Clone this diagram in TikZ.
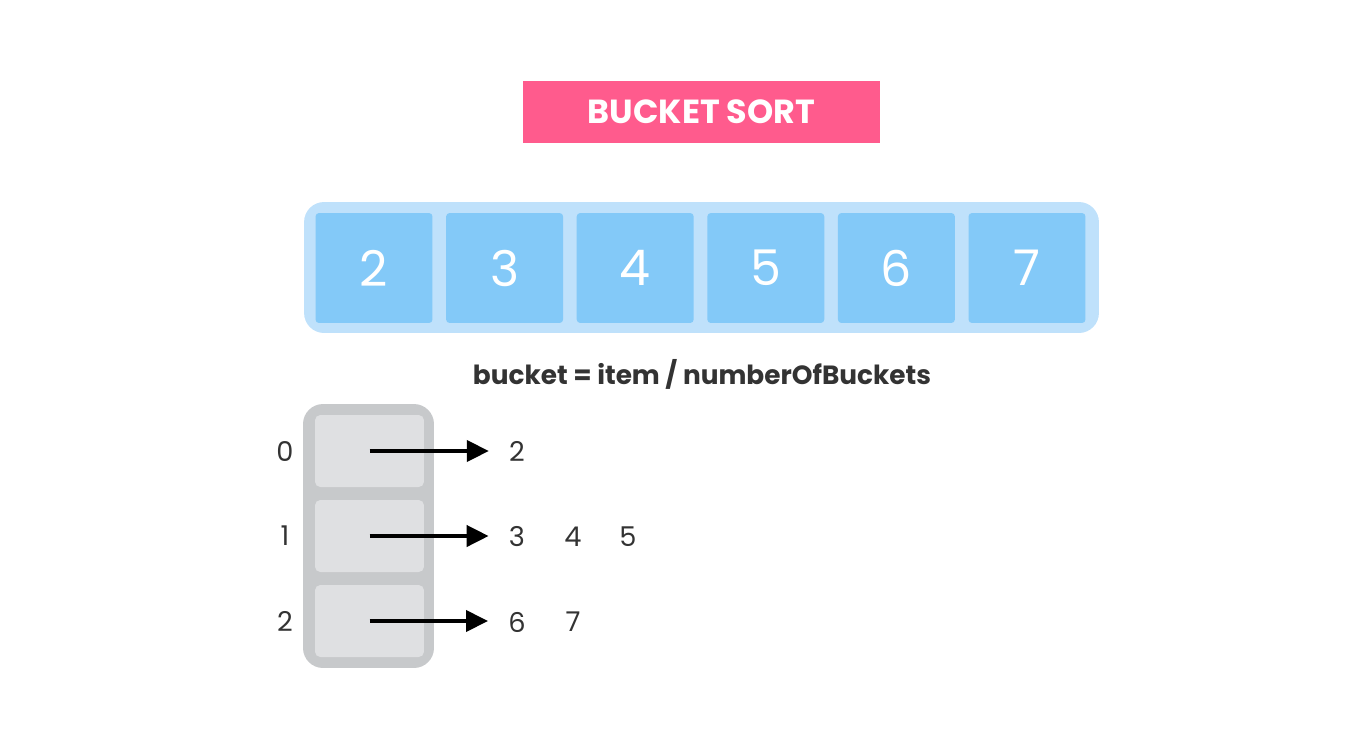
\documentclass[tikz,border=0pt]{standalone}
\usepackage{fontspec}
\setmainfont{Poppins}
\usepackage{tikz}
\usetikzlibrary{positioning,arrows.meta}
\definecolor{titlepink}{HTML}{FF5B8D}
\definecolor{arrayrim}{HTML}{BFE1FB}
\definecolor{cellblue}{HTML}{83C9F8}
\definecolor{bucketrim}{HTML}{C7C9CB}
\definecolor{bucketbg}{HTML}{DFE0E2}
\definecolor{inktext}{HTML}{333333}

\begin{document}
\begin{tikzpicture}[x=0.02cm, y=-0.02cm,
  arraycell/.style={fill=cellblue, rounded corners=2pt, minimum width=2.34cm, minimum height=2.2cm, inner sep=0pt, text=white, font=\fontsize{28}{28}\selectfont},
  bucketcell/.style={fill=bucketbg, rounded corners=3pt, minimum width=2.18cm, minimum height=1.44cm, inner sep=0pt},
  label/.style={text=inktext, inner sep=0pt, font=\fontsize{15.5}{17}\selectfont},
  pointer/.style={line width=0.08cm, -{Triangle[length=0.44cm, width=0.42cm]}, shorten >=0.4cm}]
  \useasboundingbox (0,0) rectangle (1353,735);

  % title banner
  \node[fill=titlepink, minimum width=7.14cm, minimum height=1.24cm, text=white, font=\fontsize{19}{20}\selectfont\bfseries] (title) at (701.5,112) {BUCKET SORT};

  % input array: rim + 6 cells
  \node[fill=arrayrim, rounded corners=0.4cm, minimum width=15.9cm, minimum height=2.62cm] (rim) at (701.5,267.5) {};
  \foreach \i/\v in {0/2, 1/3, 2/4, 3/5, 4/6, 5/7} {
    \node[arraycell] (a\i) at (374 + 130.6*\i, 268) {\v};
  }

  % formula
  \node[text=inktext, font=\fontsize{15}{18}\selectfont\bfseries] (rule) at (702,374) {bucket = item / numberOfBuckets};

  % bucket column: rim + 3 cells + indices
  \node[fill=bucketrim, rounded corners=0.4cm, minimum width=2.62cm, minimum height=5.28cm] (col) at (368.5,536) {};
  \foreach \i/\ypos in {0/451, 1/536, 2/621} {
    \node[bucketcell] (b\i) at (369.5, \ypos) {};
    \node[label] (idx\i) at (285, \ypos) {\i};
  }

  % contents of each bucket
  \node[label] (v00) at (517,451) {2};
  \node[label] (v10) at (517,537) {3};
  \node[label] (v11) at (573,537) {4};
  \node[label] (v12) at (628,537) {5};
  \node[label] (v20) at (517,622) {6};
  \node[label] (v21) at (573,622) {7};

  % pointers
  \draw[pointer] (b0.center) -- (b0.center -| v00.west);
  \draw[pointer] (b1.center) -- (b1.center -| v10.west);
  \draw[pointer] (b2.center) -- (b2.center -| v20.west);
\end{tikzpicture}
\end{document}
